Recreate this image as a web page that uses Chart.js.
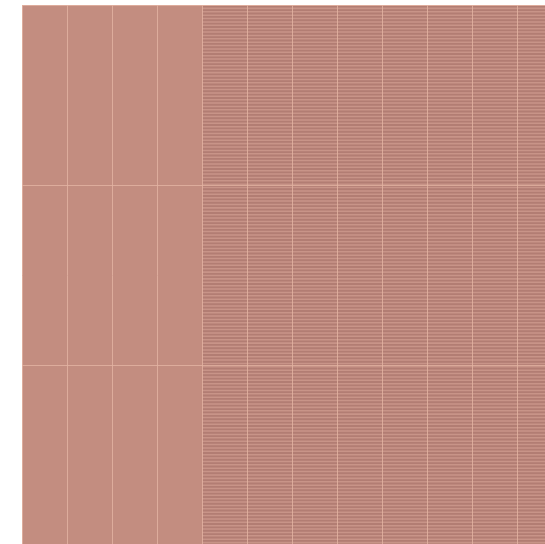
<!DOCTYPE html>
<html>
<head>
<meta charset="utf-8">
<script src="https://cdn.jsdelivr.net/npm/chart.js@4/dist/chart.umd.min.js"></script>
<style>
html,body{margin:0;padding:0;background:#fff;overflow:hidden;width:545px;height:544px;}
#wrap{position:absolute;left:0;top:0;width:563px;height:546px;}
</style>
</head>
<body>
<div id="wrap"><canvas id="c" width="563" height="546"></canvas></div>
<script>
// Stripe rows (category axis) and their extents on the x scale
const rowLabels = [
"1","2","3","4","5","6","7","8","9","10","11","12","13","14","15","16","17","18","19","20",
"21","22","23","24","25","26","27","28","29","30","31","32","33","34","35","36","37","38","39","40",
"41","42","43","44","45","46","47","48","49","50","51","52","53","54","55","56","57","58","59","60",
"61","62","63","64","65","66","67","68","69","70","71","72","73","74","75","76","77","78","79","80",
"81","82","83","84","85","86","87","88","89","90","91","92","93","94","95","96","97","98","99","100",
"101","102","103","104","105","106","107","108","109","110","111","112","113","114","115","116","117","118","119","120",
"121","122","123","124","125","126","127","128","129","130","131","132","133","134","135","136","137","138","139","140",
"141","142","143","144","145","146","147","148","149","150","151","152","153","154","155","156","157","158","159","160"
];
const stripeRanges = [
[4,12],[4,12],[4,12],[4,12],[4,12],[4,12],[4,12],[4,12],[4,12],[4,12],[4,12],[4,12],[4,12],[4,12],[4,12],[4,12],[4,12],[4,12],[4,12],[4,12],
[4,12],[4,12],[4,12],[4,12],[4,12],[4,12],[4,12],[4,12],[4,12],[4,12],[4,12],[4,12],[4,12],[4,12],[4,12],[4,12],[4,12],[4,12],[4,12],[4,12],
[4,12],[4,12],[4,12],[4,12],[4,12],[4,12],[4,12],[4,12],[4,12],[4,12],[4,12],[4,12],[4,12],[4,12],[4,12],[4,12],[4,12],[4,12],[4,12],[4,12],
[4,12],[4,12],[4,12],[4,12],[4,12],[4,12],[4,12],[4,12],[4,12],[4,12],[4,12],[4,12],[4,12],[4,12],[4,12],[4,12],[4,12],[4,12],[4,12],[4,12],
[4,12],[4,12],[4,12],[4,12],[4,12],[4,12],[4,12],[4,12],[4,12],[4,12],[4,12],[4,12],[4,12],[4,12],[4,12],[4,12],[4,12],[4,12],[4,12],[4,12],
[4,12],[4,12],[4,12],[4,12],[4,12],[4,12],[4,12],[4,12],[4,12],[4,12],[4,12],[4,12],[4,12],[4,12],[4,12],[4,12],[4,12],[4,12],[4,12],[4,12],
[4,12],[4,12],[4,12],[4,12],[4,12],[4,12],[4,12],[4,12],[4,12],[4,12],[4,12],[4,12],[4,12],[4,12],[4,12],[4,12],[4,12],[4,12],[4,12],[4,12],
[4,12],[4,12],[4,12],[4,12],[4,12],[4,12],[4,12],[4,12],[4,12],[4,12],[4,12],[4,12],[4,12],[4,12],[4,12],[4,12],[4,12],[4,12],[4,12],[4,12]
];
// Grid extents
const xMin = 0, xMax = 12;
const yMin = 0, yMax = 3;

const areaBg = {
  id: 'areaBg',
  beforeDraw(chart) {
    const {ctx, chartArea: a} = chart;
    ctx.save();
    ctx.fillStyle = 'rgb(195,141,128)';
    ctx.fillRect(a.left, a.top, a.right - a.left, a.bottom - a.top);
    ctx.fillStyle = 'rgb(200,148,136)';
    const x4 = chart.scales.x.getPixelForValue(4);
    ctx.fillRect(x4, a.top, a.right - x4, a.bottom - a.top);
    ctx.restore();
  }
};

new Chart(document.getElementById('c'), {
  type: 'bar',
  data: {
    labels: rowLabels,
    datasets: [{
      data: stripeRanges,
      backgroundColor: 'rgb(178,125,115)',
      borderWidth: 0,
      barPercentage: 1,
      categoryPercentage: 0.55,
      yAxisID: 'rows',
      xAxisID: 'x'
    }]
  },
  plugins: [areaBg],
  options: {
    indexAxis: 'y',
    responsive: false,
    animation: false,
    devicePixelRatio: 1,
    layout: {padding: {left: 22, top: 5, right: 0, bottom: 0}},
    plugins: {legend: {display: false}, tooltip: {enabled: false}},
    scales: {
      x: {
        type: 'linear', min: xMin, max: xMax, position: 'bottom', offset: false,
        ticks: {display: false, stepSize: 1},
        grid: {color: 'rgba(228,180,162,0.8)', lineWidth: 1, drawTicks: false, offset: false, z: 1},
        border: {display: false}
      },
      rows: {
        type: 'category', axis: 'y', position: 'left', display: false,
        grid: {display: false}
      },
      bands: {
        type: 'linear', axis: 'y', min: yMin, max: yMax, position: 'left', offset: false,
        ticks: {display: false, stepSize: 1},
        grid: {color: 'rgba(228,180,162,0.8)', lineWidth: 1, drawTicks: false, offset: false, z: 1},
        border: {display: false}
      }
    }
  }
});
</script>
</body>
</html>
